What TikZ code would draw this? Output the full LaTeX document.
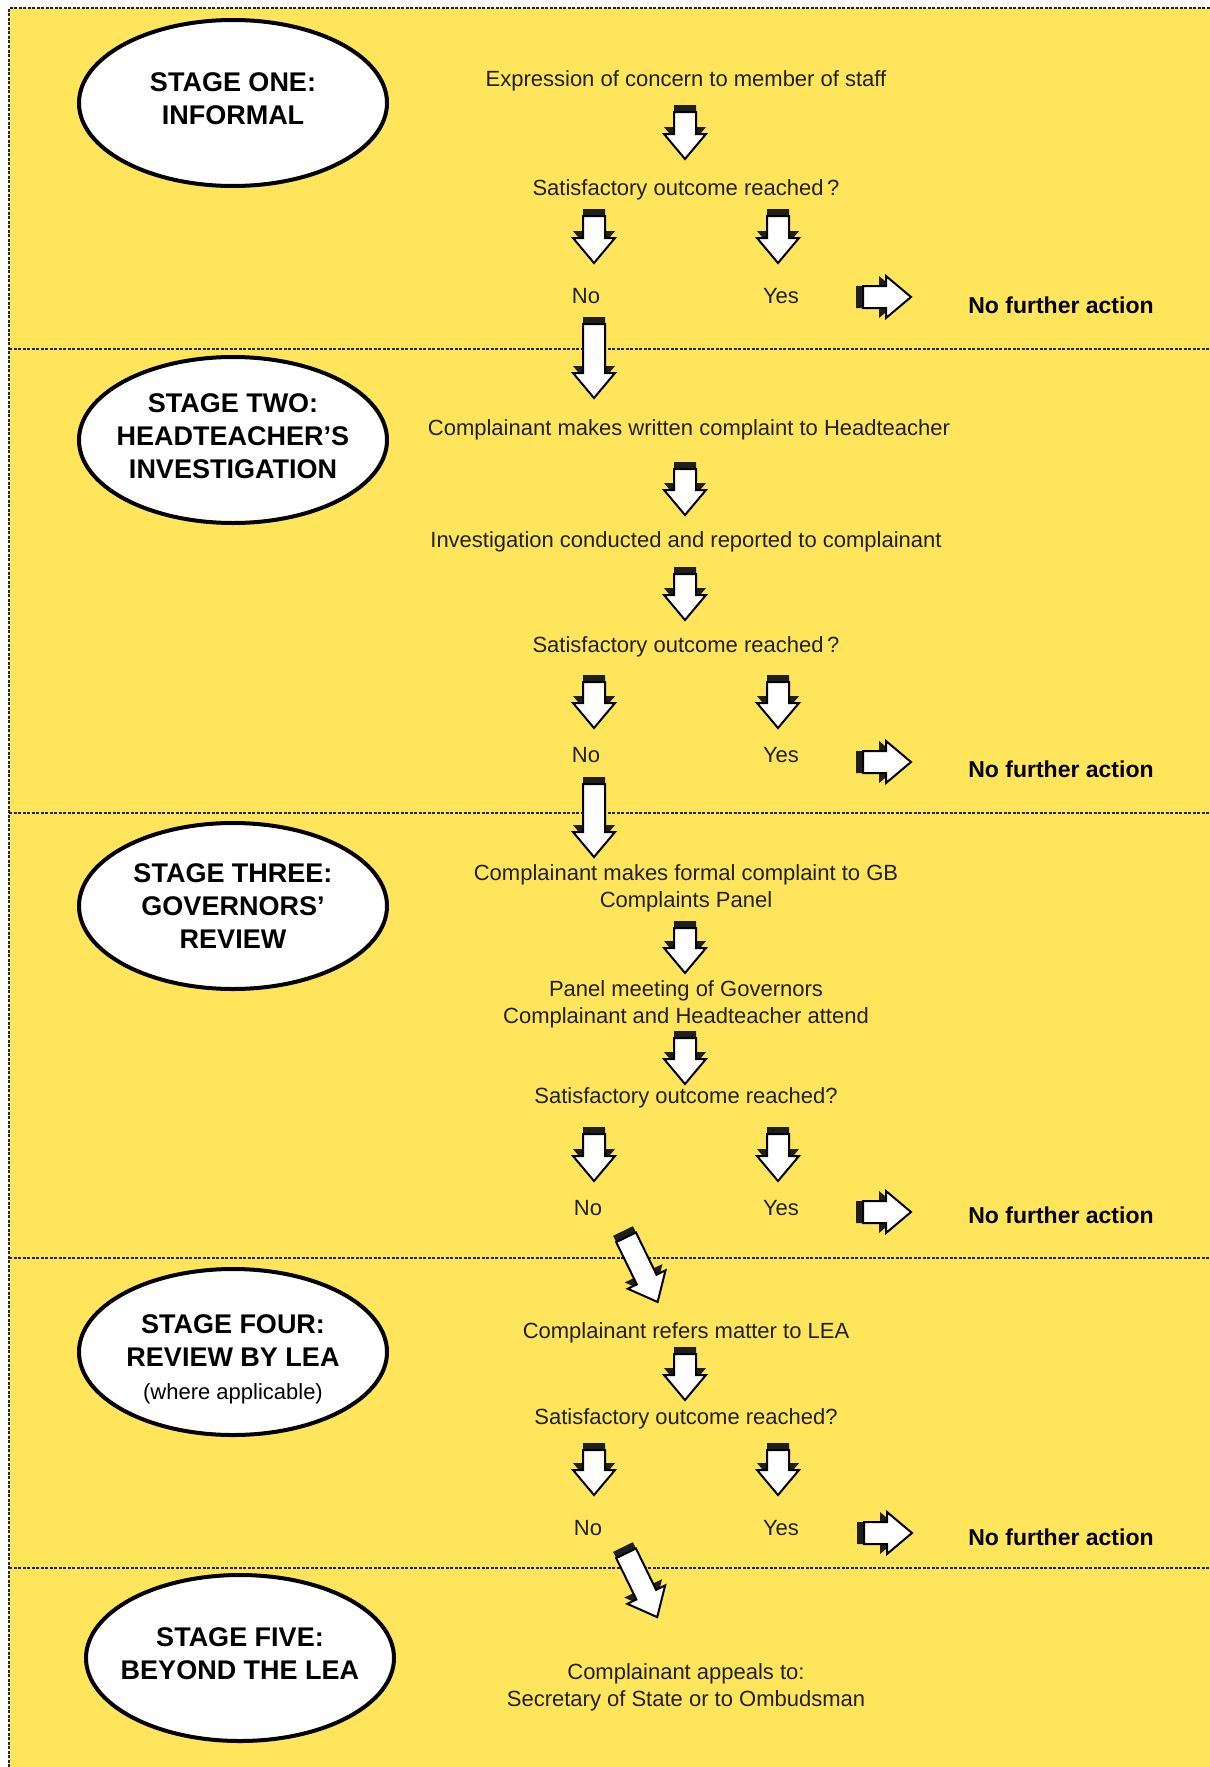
\documentclass[tikz,border=0pt]{standalone}
\usepackage{fontspec}
\setmainfont{Liberation Sans}
\usetikzlibrary{shapes.geometric}
\definecolor{bgyellow}{RGB}{255,229,92}
\definecolor{ink}{RGB}{32,32,32}
\tikzset{
  stagebox/.style={ellipse, draw=black, line width=4pt, fill=white,
    minimum width=308pt, minimum height=166pt, inner sep=0pt},
  stagetxt/.style={align=center, inner sep=0pt,
    font=\fontsize{27}{33}\selectfont\bfseries, text=black},
  txt/.style={font=\fontsize{22}{27}\selectfont, text=ink, align=center, inner sep=0pt},
  nfa/.style={font=\fontsize{23}{27}\selectfont\bfseries, text=black, inner sep=0pt},
  sepline/.style={line width=1.1pt, dash pattern=on 3pt off 1.5pt, black!85},
  pics/barrow/.style={code={
    \fill[black!88] (0,-11) -- ({#1-32},-11) -- ({#1-32},-21) -- ({#1-7},0)
      -- ({#1-32},21) -- ({#1-32},11) -- (0,11) -- cycle;
    \filldraw[fill=white, draw=black, line width=2pt, line join=miter]
      (7,-11) -- ({#1-25},-11) -- ({#1-25},-21) -- (#1,0)
      -- ({#1-25},21) -- ({#1-25},11) -- (7,11) -- cycle;
  }}
}
\begin{document}
\begin{tikzpicture}[x=1pt,y=-1pt]
\useasboundingbox (0,0) rectangle (1210,1767);
\fill[white] (0,0) rectangle (1210,1767);
\fill[bgyellow] (9,8) rectangle (1210,1767);
% frame and separators
\draw[sepline] (9,1767) -- (9,8) -- (1210,8);
\draw[sepline] (9,349) -- (1210,349);
\draw[sepline] (9,813) -- (1210,813);
\draw[sepline] (9,1258) -- (1210,1258);
\draw[sepline] (9,1568) -- (1210,1568);

% stage ellipses
\node[stagebox] (st1) at (233,103) {};
\node[stagebox] (st2) at (233,440) {};
\node[stagebox] (st3) at (233,906) {};
\node[stagebox] (st4) at (233,1352) {};
\node[stagebox] (st5) at (240,1658) {};
\node[stagetxt] (st1t) at (233,99) {STAGE ONE:\\INFORMAL};
\node[stagetxt] (st2t) at (233,436) {STAGE TWO:\\HEADTEACHER’S\\INVESTIGATION};
\node[stagetxt] (st3t) at (233,906) {STAGE THREE:\\GOVERNORS’\\REVIEW};
\node[stagetxt] (st4t) at (233,1359) {STAGE FOUR:\\REVIEW BY LEA\\{\fontsize{22}{27}\selectfont\mdseries (where applicable)}};
\node[stagetxt] (st5t) at (240,1654) {STAGE FIVE:\\BEYOND THE LEA};

% stage one
\node[txt] (expr) at (686,81) {Expression of concern to member of staff};
\node[txt] (sat1) at (686,190) {Satisfactory outcome reached\,?};
\node[txt] (no1) at (586,296) {No};
\node[txt] (yes1) at (781,296) {Yes};
\node[nfa] (nfa1) at (1061,305) {No further action};
\pic[rotate=-90] at (685,105) {barrow=54};
\pic[rotate=-90] at (594,209) {barrow=54};
\pic[rotate=-90] at (778,209) {barrow=54};
\pic at (856,297) {barrow=55};
\pic[rotate=-90] at (594,317) {barrow=81};

% stage two
\node[txt] (wrc) at (689,430) {Complainant makes written complaint to Headteacher};
\node[txt] (inv) at (686,542) {Investigation conducted and reported to complainant};
\node[txt] (sat2) at (686,647) {Satisfactory outcome reached\,?};
\node[txt] (no2) at (586,755) {No};
\node[txt] (yes2) at (781,755) {Yes};
\node[nfa] (nfa2) at (1061,769) {No further action};
\pic[rotate=-90] at (685,462) {barrow=53};
\pic[rotate=-90] at (685,567) {barrow=53};
\pic[rotate=-90] at (594,675) {barrow=53};
\pic[rotate=-90] at (778,675) {barrow=53};
\pic at (856,762) {barrow=55};
\pic[rotate=-90] at (594,777) {barrow=80};

% stage three
\node[txt] (gb) at (686,888) {Complainant makes formal complaint to GB\\Complaints Panel};
\node[txt] (panel) at (686,1004) {Panel meeting of Governors\\Complainant and Headteacher attend};
\node[txt] (sat3) at (686,1098) {Satisfactory outcome reached?};
\node[txt] (no3) at (588,1208) {No};
\node[txt] (yes3) at (781,1208) {Yes};
\node[nfa] (nfa3) at (1061,1215) {No further action};
\pic[rotate=-90] at (685,921) {barrow=52};
\pic[rotate=-90] at (685,1031) {barrow=53};
\pic[rotate=-90] at (594,1127) {barrow=54};
\pic[rotate=-90] at (778,1127) {barrow=54};
\pic at (856,1212) {barrow=55};
\pic[rotate=-64] at (623,1231) {barrow=79};

% stage four
\node[txt] (lea) at (686,1333) {Complainant refers matter to LEA};
\node[txt] (sat4) at (686,1419) {Satisfactory outcome reached?};
\node[txt] (no4) at (588,1528) {No};
\node[txt] (yes4) at (781,1528) {Yes};
\node[nfa] (nfa4) at (1061,1537) {No further action};
\pic[rotate=-90] at (685,1347) {barrow=53};
\pic[rotate=-90] at (594,1443) {barrow=52};
\pic[rotate=-90] at (778,1443) {barrow=52};
\pic at (857,1533) {barrow=55};
\pic[rotate=-64] at (623,1547) {barrow=78};

% stage five
\node[txt] (appeal) at (686,1687) {Complainant appeals to:\\Secretary of State or to Ombudsman};
\end{tikzpicture}
\end{document}
